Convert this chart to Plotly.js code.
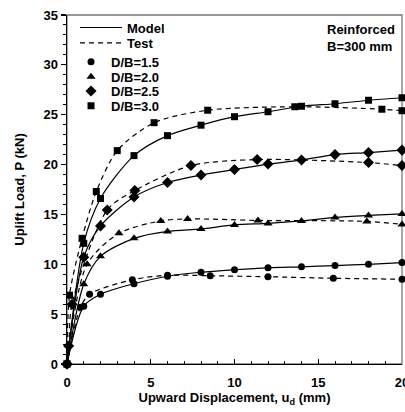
<!DOCTYPE html>
<html>
<head>
<meta charset="utf-8">
<script src="https://cdn.plot.ly/plotly-3.0.1.min.js"></script>
<style>html,body{margin:0;padding:0;background:#fff;}#chart{width:405px;height:412px;}</style>
</head>
<body>
<div id="chart"></div>
<script>
// D/B = 1.5
const x15Model = [0, 1, 2, 4, 6, 8, 10, 12, 14, 16, 18, 20];
const y15Model = [0, 5.8, 7.0, 8.05, 8.8, 9.2, 9.45, 9.65, 9.75, 9.87, 10.0, 10.17];
const x15Test = [0, 0.8, 1.35, 3.9, 6, 8.55, 12, 15.9, 20];
const y15Test = [0, 5.7, 7.0, 8.45, 8.9, 8.85, 8.75, 8.6, 8.5];
// D/B = 2.0
const x20Model = [0, 1, 2, 4, 6, 8, 10, 12, 14, 16, 18, 20];
const y20Model = [0, 8.0, 10.8, 12.6, 13.3, 13.55, 13.95, 14.1, 14.35, 14.7, 14.9, 15.05];
const x20Test = [0, 1.2, 3.1, 5.6, 7.2, 11.4, 17.9, 20];
const y20Test = [0, 10.0, 13.1, 14.35, 14.55, 14.4, 14.3, 14.0];
// D/B = 2.5
const x25Model = [0, 1, 2, 4, 6, 8, 10, 12, 14, 16, 18, 20];
const y25Model = [0, 10.7, 13.85, 16.75, 18.2, 18.95, 19.5, 20.05, 20.45, 21.0, 21.2, 21.45];
const x25Test = [0, 0.1, 0.3, 2.4, 4.05, 7.4, 11.35, 18, 20];
const y25Test = [0, 1.8, 6.0, 15.45, 17.4, 19.9, 20.5, 20.2, 19.9];
// D/B = 3.0
const x30Model = [0, 1, 2, 4, 6, 8, 10, 12, 14, 16, 18, 20];
const y30Model = [0, 12.1, 16.6, 20.9, 22.9, 23.95, 24.8, 25.3, 25.85, 26.1, 26.45, 26.7];
const x30Test = [0, 0.15, 0.9, 1.75, 3.0, 5.2, 8.4, 13.6, 18.8, 20];
const y30Test = [0, 6.9, 12.6, 17.3, 21.4, 24.2, 25.45, 25.8, 25.55, 25.4];

const groupNames = ['D/B=1.5', 'D/B=2.0', 'D/B=2.5', 'D/B=3.0'];
const groupSymbols = ['circle', 'triangle-up', 'diamond', 'square'];
const groupSizes = [7, 8, 8.5, 7];
const xTickVals = [0, 5, 10, 15, 20];
const yTickVals = [0, 5, 10, 15, 20, 25, 30, 35];
const xTitle = 'Upward Displacement, u<sub>d</sub> (mm)';
const yTitle = 'Uplift Load, P (kN)';
const noteText = 'Reinforced<br>B=300 mm';

const FONT = 'Liberation Sans, Arial, sans-serif';
const series = [
  [x15Model, y15Model, x15Test, y15Test],
  [x20Model, y20Model, x20Test, y20Test],
  [x25Model, y25Model, x25Test, y25Test],
  [x30Model, y30Model, x30Test, y30Test]
];

const traces = [];
series.forEach((s, i) => {
  const mk = {symbol: groupSymbols[i], size: groupSizes[i], color: '#000'};
  traces.push({x: s[0], y: s[1], type: 'scatter', mode: 'lines+markers', showlegend: false,
    cliponaxis: false,
    line: {color: '#000', width: 1.2, shape: 'spline', smoothing: 0.8}, marker: mk});
  traces.push({x: s[2], y: s[3], type: 'scatter', mode: 'lines+markers', showlegend: false,
    cliponaxis: false,
    line: {color: '#000', width: 1.2, dash: '5px,4px', shape: 'spline', smoothing: 0.8}, marker: mk});
});

// legend-only entries
traces.push({x: [null], y: [null], type: 'scatter', mode: 'lines', name: 'Model', legend: 'legend',
  line: {color: '#000', width: 1.2}});
traces.push({x: [null], y: [null], type: 'scatter', mode: 'lines', name: 'Test', legend: 'legend2',
  line: {color: '#000', width: 1.2, dash: '5px,4px'}});
groupNames.forEach((n, i) => {
  traces.push({x: [null], y: [null], type: 'scatter', mode: 'markers', name: n, legend: 'legend' + (i + 3),
    marker: {symbol: groupSymbols[i], size: groupSizes[i], color: '#000'}});
});

const legFont = {family: FONT, size: 13, color: '#000', weight: 'bold'};
function leg(x, y, w) {
  return {x: x, y: y, xanchor: 'left', yanchor: 'middle', bgcolor: 'rgba(0,0,0,0)', borderwidth: 0,
    font: legFont, itemwidth: w, tracegroupgap: 0};
}

const layout = {
  width: 405, height: 412,
  margin: {l: 67, r: 3, t: 15, b: 48},
  paper_bgcolor: '#fff', plot_bgcolor: '#fff',
  font: {family: FONT, size: 13, color: '#000'},
  xaxis: {
    range: [0, 20], tickvals: xTickVals, ticks: 'inside', ticklen: 5, tickwidth: 1.2, tickcolor: '#000',
    minor: {dtick: 1, ticks: 'inside', ticklen: 3, tickcolor: '#000', tickwidth: 1},
    showline: true, linecolor: '#000', linewidth: 1.4, showgrid: false, zeroline: false,
    tickfont: {family: FONT, size: 13, weight: 'bold'}, ticklabeloverflow: 'allow', ticklabelstandoff: 6,
    title: {text: xTitle, font: {family: FONT, size: 13, weight: 'bold'}, standoff: 4}
  },
  yaxis: {
    range: [0, 35], tickvals: yTickVals, ticks: 'outside', ticklen: 5, tickwidth: 1.2, tickcolor: '#000',
    minor: {dtick: 1, ticks: 'outside', ticklen: 3, tickcolor: '#000', tickwidth: 1},
    showline: true, linecolor: '#000', linewidth: 1.4, showgrid: false, zeroline: false,
    tickfont: {family: FONT, size: 13, weight: 'bold'}, ticklabeloverflow: 'allow',
    title: {text: yTitle, font: {family: FONT, size: 13, weight: 'bold'}, standoff: 16}
  },
  shapes: [{type: 'rect', xref: 'paper', yref: 'paper', x0: 0, x1: 1, y0: 0, y1: 1,
    line: {color: '#777', width: 1.3}, layer: 'below'}],
  annotations: [{xref: 'paper', yref: 'paper', x: 0.77, y: 0.985, xanchor: 'left', yanchor: 'top',
    align: 'left', showarrow: false, text: noteText, font: {family: FONT, size: 13, weight: 'bold', color: '#000'}}],
  legend: leg(0.024, 0.964, 42),
  legend2: leg(0.024, 0.920, 42),
  legend3: leg(0.012, 0.866, 30),
  legend4: leg(0.012, 0.823, 30),
  legend5: leg(0.012, 0.782, 30),
  legend6: leg(0.012, 0.740, 30)
};

Plotly.newPlot('chart', traces, layout, {staticPlot: true, displayModeBar: false});
</script>
</body>
</html>
